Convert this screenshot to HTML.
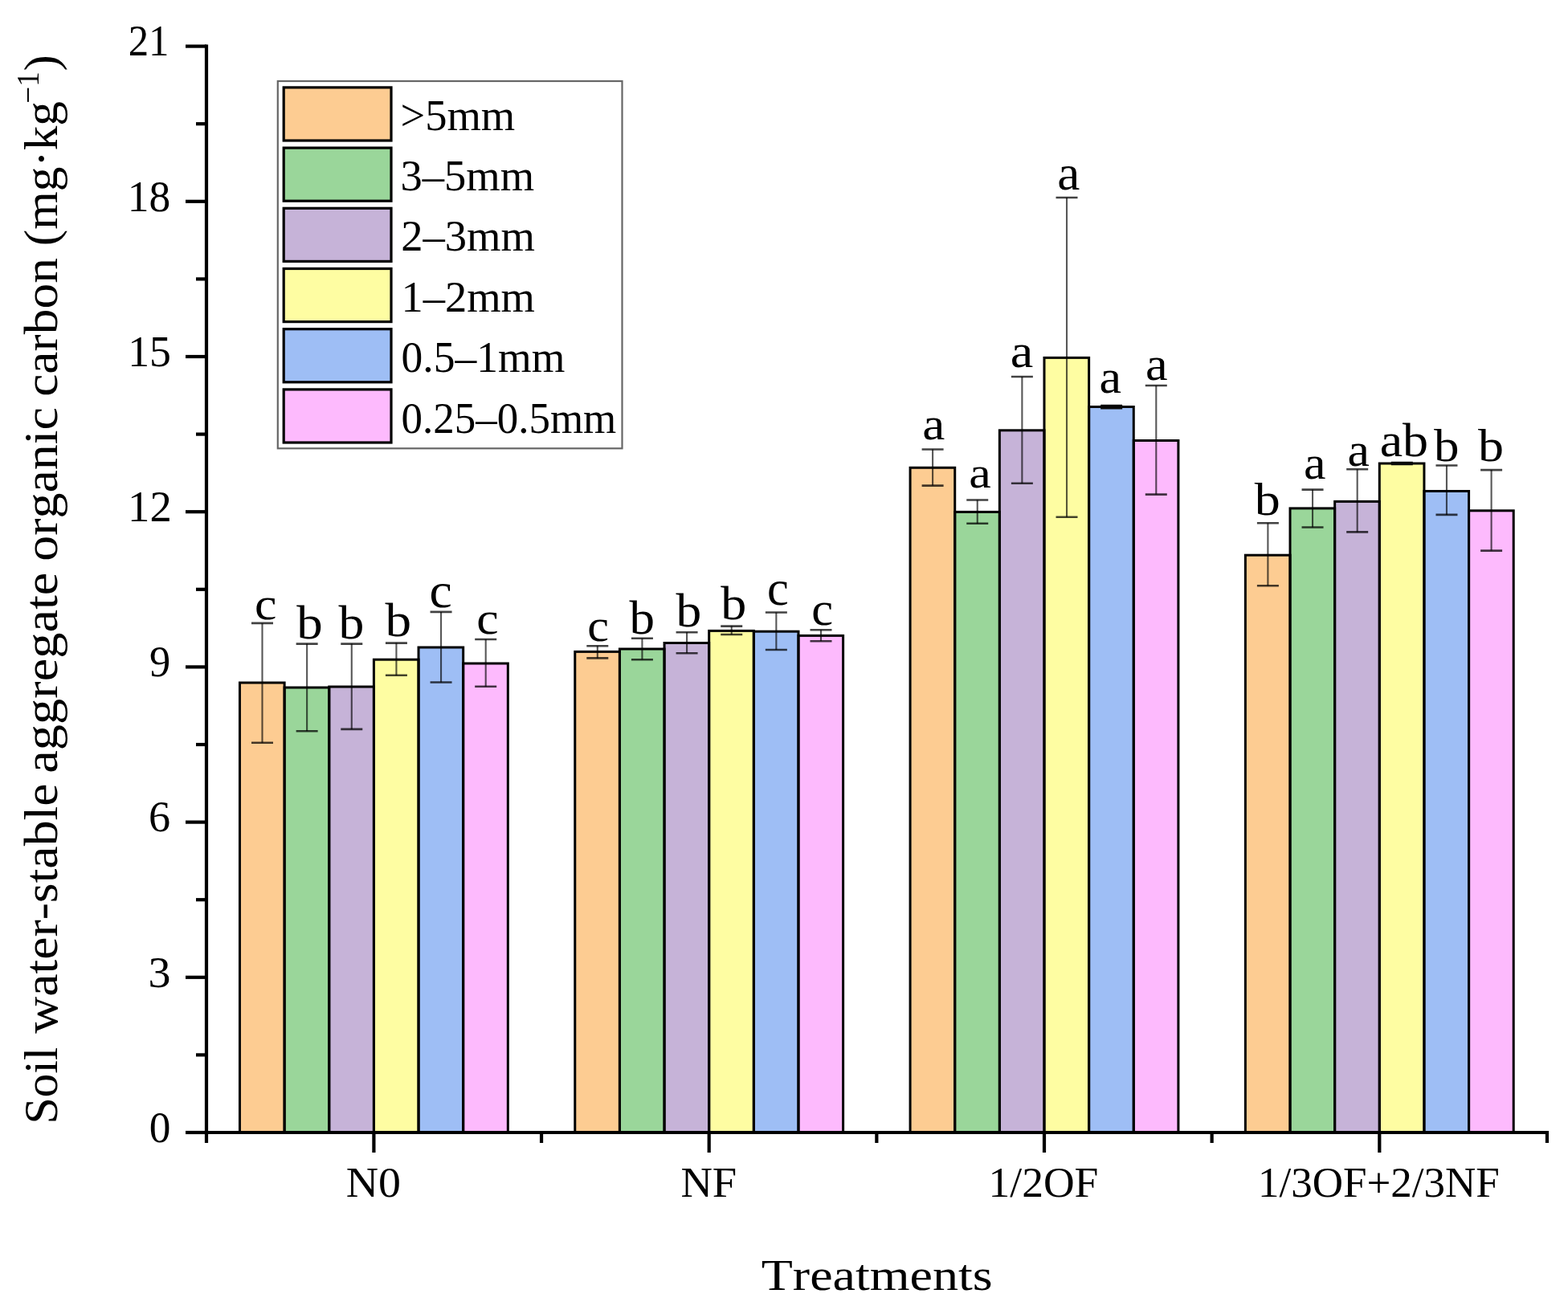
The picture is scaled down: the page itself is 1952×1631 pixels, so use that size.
<!DOCTYPE html>
<html><head><meta charset="utf-8"><title>Soil water-stable aggregate organic carbon</title><style>html,body{margin:0;padding:0;background:#fff;}body{width:1952px;height:1631px;overflow:hidden;}svg{display:block;}text{font-kerning:none;}</style></head><body>
<svg width="1952" height="1631" viewBox="0 0 1952 1631" font-family="'Liberation Serif', serif" fill="#000">
<rect width="1952" height="1631" fill="#fff"/>
<g><rect x="298.48" y="850.00" width="55.64" height="560.00" fill="#FDCC92"/><rect x="354.12" y="856.00" width="55.64" height="554.00" fill="#9AD69A"/><rect x="409.76" y="855.00" width="55.64" height="555.00" fill="#C6B3D8"/><rect x="465.40" y="821.20" width="55.64" height="588.80" fill="#FEFDA2"/><rect x="521.04" y="806.00" width="55.64" height="604.00" fill="#9EBEF5"/><rect x="576.68" y="826.00" width="55.64" height="584.00" fill="#FDBAFD"/><rect x="715.78" y="811.40" width="55.64" height="598.60" fill="#FDCC92"/><rect x="771.42" y="808.00" width="55.64" height="602.00" fill="#9AD69A"/><rect x="827.06" y="800.50" width="55.64" height="609.50" fill="#C6B3D8"/><rect x="882.70" y="785.40" width="55.64" height="624.60" fill="#FEFDA2"/><rect x="938.34" y="786.20" width="55.64" height="623.80" fill="#9EBEF5"/><rect x="993.98" y="791.40" width="55.64" height="618.60" fill="#FDBAFD"/><rect x="1133.08" y="582.30" width="55.64" height="827.70" fill="#FDCC92"/><rect x="1188.72" y="637.40" width="55.64" height="772.60" fill="#9AD69A"/><rect x="1244.36" y="535.80" width="55.64" height="874.20" fill="#C6B3D8"/><rect x="1300.00" y="445.40" width="55.64" height="964.60" fill="#FEFDA2"/><rect x="1355.64" y="506.50" width="55.64" height="903.50" fill="#9EBEF5"/><rect x="1411.28" y="548.50" width="55.64" height="861.50" fill="#FDBAFD"/><rect x="1550.38" y="691.20" width="55.64" height="718.80" fill="#FDCC92"/><rect x="1606.02" y="632.90" width="55.64" height="777.10" fill="#9AD69A"/><rect x="1661.66" y="624.40" width="55.64" height="785.60" fill="#C6B3D8"/><rect x="1717.30" y="577.00" width="55.64" height="833.00" fill="#FEFDA2"/><rect x="1772.94" y="611.50" width="55.64" height="798.50" fill="#9EBEF5"/><rect x="1828.58" y="635.80" width="55.64" height="774.20" fill="#FDBAFD"/><rect x="298.48" y="850.00" width="55.64" height="560.00" fill="none" stroke="#000" stroke-width="3.0"/><rect x="354.12" y="856.00" width="55.64" height="554.00" fill="none" stroke="#000" stroke-width="3.0"/><rect x="409.76" y="855.00" width="55.64" height="555.00" fill="none" stroke="#000" stroke-width="3.0"/><rect x="465.40" y="821.20" width="55.64" height="588.80" fill="none" stroke="#000" stroke-width="3.0"/><rect x="521.04" y="806.00" width="55.64" height="604.00" fill="none" stroke="#000" stroke-width="3.0"/><rect x="576.68" y="826.00" width="55.64" height="584.00" fill="none" stroke="#000" stroke-width="3.0"/><rect x="715.78" y="811.40" width="55.64" height="598.60" fill="none" stroke="#000" stroke-width="3.0"/><rect x="771.42" y="808.00" width="55.64" height="602.00" fill="none" stroke="#000" stroke-width="3.0"/><rect x="827.06" y="800.50" width="55.64" height="609.50" fill="none" stroke="#000" stroke-width="3.0"/><rect x="882.70" y="785.40" width="55.64" height="624.60" fill="none" stroke="#000" stroke-width="3.0"/><rect x="938.34" y="786.20" width="55.64" height="623.80" fill="none" stroke="#000" stroke-width="3.0"/><rect x="993.98" y="791.40" width="55.64" height="618.60" fill="none" stroke="#000" stroke-width="3.0"/><rect x="1133.08" y="582.30" width="55.64" height="827.70" fill="none" stroke="#000" stroke-width="3.0"/><rect x="1188.72" y="637.40" width="55.64" height="772.60" fill="none" stroke="#000" stroke-width="3.0"/><rect x="1244.36" y="535.80" width="55.64" height="874.20" fill="none" stroke="#000" stroke-width="3.0"/><rect x="1300.00" y="445.40" width="55.64" height="964.60" fill="none" stroke="#000" stroke-width="3.0"/><rect x="1355.64" y="506.50" width="55.64" height="903.50" fill="none" stroke="#000" stroke-width="3.0"/><rect x="1411.28" y="548.50" width="55.64" height="861.50" fill="none" stroke="#000" stroke-width="3.0"/><rect x="1550.38" y="691.20" width="55.64" height="718.80" fill="none" stroke="#000" stroke-width="3.0"/><rect x="1606.02" y="632.90" width="55.64" height="777.10" fill="none" stroke="#000" stroke-width="3.0"/><rect x="1661.66" y="624.40" width="55.64" height="785.60" fill="none" stroke="#000" stroke-width="3.0"/><rect x="1717.30" y="577.00" width="55.64" height="833.00" fill="none" stroke="#000" stroke-width="3.0"/><rect x="1772.94" y="611.50" width="55.64" height="798.50" fill="none" stroke="#000" stroke-width="3.0"/><rect x="1828.58" y="635.80" width="55.64" height="774.20" fill="none" stroke="#000" stroke-width="3.0"/></g>
<path fill="none" stroke="#000" stroke-opacity="0.66" stroke-width="2.1" d="M326.50 775.90V924.80M382.14 801.60V910.20M437.78 801.60V907.90M493.42 800.60V840.70M549.06 761.90V849.50M604.70 796.00V854.80M743.80 804.20V819.40M799.44 794.80V821.30M855.08 787.20V813.20M910.72 779.60V790.00M966.36 762.50V809.00M1022.00 784.30V798.30M1161.10 559.50V604.60M1216.74 622.50V651.80M1272.38 469.00V601.70M1328.02 246.00V643.80M1383.66 505.00V508.20M1439.30 480.00V615.60M1578.40 651.30V729.30M1634.04 609.60V656.50M1689.68 584.20V662.40M1745.32 576.00V578.00M1800.96 579.50V640.90M1856.60 585.10V685.60"/>
<path fill="none" stroke="#000" stroke-opacity="0.74" stroke-width="2.6" d="M313.00 775.90H340.00M313.00 924.80H340.00M368.64 801.60H395.64M368.64 910.20H395.64M424.28 801.60H451.28M424.28 907.90H451.28M479.92 800.60H506.92M479.92 840.70H506.92M535.56 761.90H562.56M535.56 849.50H562.56M591.20 796.00H618.20M591.20 854.80H618.20M730.30 804.20H757.30M730.30 819.40H757.30M785.94 794.80H812.94M785.94 821.30H812.94M841.58 787.20H868.58M841.58 813.20H868.58M897.22 779.60H924.22M897.22 790.00H924.22M952.86 762.50H979.86M952.86 809.00H979.86M1008.50 784.30H1035.50M1008.50 798.30H1035.50M1147.60 559.50H1174.60M1147.60 604.60H1174.60M1203.24 622.50H1230.24M1203.24 651.80H1230.24M1258.88 469.00H1285.88M1258.88 601.70H1285.88M1314.52 246.00H1341.52M1314.52 643.80H1341.52M1425.80 480.00H1452.80M1425.80 615.60H1452.80M1564.90 651.30H1591.90M1564.90 729.30H1591.90M1620.54 609.60H1647.54M1620.54 656.50H1647.54M1676.18 584.20H1703.18M1676.18 662.40H1703.18M1787.46 579.50H1814.46M1787.46 640.90H1814.46M1843.10 585.10H1870.10M1843.10 685.60H1870.10"/>
<path fill="none" stroke="#0a0a0a" stroke-width="2.6" d="M1370.16 505.00H1397.16M1370.16 508.20H1397.16M1731.82 576.00H1758.82M1731.82 578.00H1758.82"/>
<g><text x="317.14" y="771.33" font-size="58.01" textLength="27.46" lengthAdjust="spacingAndGlyphs">c</text><text x="369.30" y="795.23" font-size="58.70" textLength="32.47" lengthAdjust="spacingAndGlyphs">b</text><text x="421.40" y="795.23" font-size="58.70" textLength="31.82" lengthAdjust="spacingAndGlyphs">b</text><text x="479.40" y="792.23" font-size="58.84" textLength="32.58" lengthAdjust="spacingAndGlyphs">b</text><text x="534.47" y="756.01" font-size="60.92" textLength="28.29" lengthAdjust="spacingAndGlyphs">c</text><text x="593.24" y="789.44" font-size="57.80" textLength="27.46" lengthAdjust="spacingAndGlyphs">c</text><text x="731.30" y="798.03" font-size="58.01" textLength="26.75" lengthAdjust="spacingAndGlyphs">c</text><text x="783.60" y="789.03" font-size="58.55" textLength="31.50" lengthAdjust="spacingAndGlyphs">b</text><text x="841.40" y="780.22" font-size="59.41" textLength="31.72" lengthAdjust="spacingAndGlyphs">b</text><text x="897.30" y="771.03" font-size="58.70" textLength="32.04" lengthAdjust="spacingAndGlyphs">b</text><text x="954.89" y="753.11" font-size="60.50" textLength="26.87" lengthAdjust="spacingAndGlyphs">c</text><text x="1010.29" y="777.53" font-size="58.84" textLength="26.87" lengthAdjust="spacingAndGlyphs">c</text><text x="1148.28" y="546.54" font-size="57.83" textLength="28.09" lengthAdjust="spacingAndGlyphs">a</text><text x="1206.32" y="607.46" font-size="55.32" textLength="27.53" lengthAdjust="spacingAndGlyphs">a</text><text x="1257.74" y="457.43" font-size="58.87" textLength="28.54" lengthAdjust="spacingAndGlyphs">a</text><text x="1316.18" y="236.21" font-size="60.33" textLength="28.09" lengthAdjust="spacingAndGlyphs">a</text><text x="1368.62" y="488.73" font-size="58.25" textLength="27.53" lengthAdjust="spacingAndGlyphs">a</text><text x="1426.01" y="473.21" font-size="60.12" textLength="27.64" lengthAdjust="spacingAndGlyphs">a</text><text x="1561.80" y="641.14" font-size="57.70" textLength="32.04" lengthAdjust="spacingAndGlyphs">b</text><text x="1623.02" y="596.31" font-size="59.92" textLength="27.53" lengthAdjust="spacingAndGlyphs">a</text><text x="1677.63" y="580.33" font-size="58.25" textLength="27.42" lengthAdjust="spacingAndGlyphs">a</text><text x="1717.65" y="568.43" font-size="58.84" textLength="60.49" lengthAdjust="spacingAndGlyphs">ab</text><text x="1785.00" y="573.84" font-size="57.56" textLength="31.50" lengthAdjust="spacingAndGlyphs">b</text><text x="1839.90" y="573.84" font-size="57.56" textLength="32.04" lengthAdjust="spacingAndGlyphs">b</text></g>
<g stroke="#000" stroke-width="4.2" fill="none"><path d="M257.0 55.60V1423.0M255.0 1410.0H1928.05" /><path d="M231.0 1410.00H257.0"/><path d="M231.0 1216.80H257.0"/><path d="M231.0 1023.60H257.0"/><path d="M231.0 830.40H257.0"/><path d="M231.0 637.20H257.0"/><path d="M231.0 444.00H257.0"/><path d="M231.0 250.80H257.0"/><path d="M231.0 57.60H257.0"/><path d="M244.0 1313.40H257.0"/><path d="M244.0 1120.20H257.0"/><path d="M244.0 927.00H257.0"/><path d="M244.0 733.80H257.0"/><path d="M244.0 540.60H257.0"/><path d="M244.0 347.40H257.0"/><path d="M244.0 154.20H257.0"/><path d="M465.40 1410.0V1435.0"/><path d="M882.70 1410.0V1435.0"/><path d="M1300.00 1410.0V1435.0"/><path d="M1717.30 1410.0V1435.0"/><path d="M674.05 1410.0V1423.0"/><path d="M1091.35 1410.0V1423.0"/><path d="M1508.65 1410.0V1423.0"/><path d="M1925.95 1410.0V1423.0"/></g>
<g><text x="159.67" y="69.30" font-size="54.50" textLength="50.78" lengthAdjust="spacingAndGlyphs">21</text><text x="158.80" y="262.50" font-size="54.50" textLength="53.43" lengthAdjust="spacingAndGlyphs">18</text><text x="159.18" y="455.70" font-size="54.50" textLength="53.72" lengthAdjust="spacingAndGlyphs">15</text><text x="159.09" y="648.90" font-size="54.50" textLength="54.73" lengthAdjust="spacingAndGlyphs">12</text><text x="186.01" y="842.10" font-size="54.50" textLength="26.24" lengthAdjust="spacingAndGlyphs">9</text><text x="184.97" y="1035.30" font-size="54.50" textLength="27.15" lengthAdjust="spacingAndGlyphs">6</text><text x="184.52" y="1228.50" font-size="54.50" textLength="27.96" lengthAdjust="spacingAndGlyphs">3</text><text x="185.67" y="1421.70" font-size="54.50" textLength="26.66" lengthAdjust="spacingAndGlyphs">0</text></g>
<g><text x="430.69" y="1489.80" font-size="53.00" textLength="68.23" lengthAdjust="spacingAndGlyphs">N0</text><text x="847.43" y="1489.80" font-size="53.00" textLength="69.85" lengthAdjust="spacingAndGlyphs">NF</text><text x="1230.49" y="1489.80" font-size="53.00" textLength="136.94" lengthAdjust="spacingAndGlyphs">1/2OF</text><text x="1565.94" y="1489.80" font-size="53.00" textLength="300.77" lengthAdjust="spacingAndGlyphs">1/3OF+2/3NF</text><text x="947.74" y="1605.70" font-size="55.50" textLength="287.87" lengthAdjust="spacingAndGlyphs">Treatments</text></g>
<g><rect x="345.8" y="101" width="428.7" height="457.3" fill="#fff" stroke="#666" stroke-width="2.2"/><rect x="353.2" y="108.90" width="133.8" height="66.1" fill="#FDCC92" stroke="#000" stroke-width="3.2"/><text x="498.43" y="161.60" font-size="54.00" textLength="142.82" lengthAdjust="spacingAndGlyphs">&gt;5mm</text><rect x="353.2" y="184.10" width="133.8" height="66.1" fill="#9AD69A" stroke="#000" stroke-width="3.2"/><text x="498.59" y="237.02" font-size="54.00" textLength="166.56" lengthAdjust="spacingAndGlyphs">3–5mm</text><rect x="353.2" y="259.30" width="133.8" height="66.1" fill="#C6B3D8" stroke="#000" stroke-width="3.2"/><text x="499.20" y="312.44" font-size="54.00" textLength="166.75" lengthAdjust="spacingAndGlyphs">2–3mm</text><rect x="353.2" y="334.50" width="133.8" height="66.1" fill="#FEFDA2" stroke="#000" stroke-width="3.2"/><text x="499.41" y="387.86" font-size="54.00" textLength="166.54" lengthAdjust="spacingAndGlyphs">1–2mm</text><rect x="353.2" y="409.70" width="133.8" height="66.1" fill="#9EBEF5" stroke="#000" stroke-width="3.2"/><text x="499.56" y="463.28" font-size="54.00" textLength="203.78" lengthAdjust="spacingAndGlyphs">0.5–1mm</text><rect x="353.2" y="484.90" width="133.8" height="66.1" fill="#FDBAFD" stroke="#000" stroke-width="3.2"/><text x="499.58" y="538.70" font-size="54.00" textLength="267.74" lengthAdjust="spacingAndGlyphs">0.25–0.5mm</text></g>
<g><text x="-1399.48" y="71.00" font-size="59.00" textLength="95.87" lengthAdjust="spacingAndGlyphs" transform="rotate(-90)">Soil</text><text x="-1286.86" y="71.00" font-size="59.00" textLength="311.37" lengthAdjust="spacingAndGlyphs" transform="rotate(-90)">water-stable</text><text x="-962.76" y="71.00" font-size="59.00" textLength="250.20" lengthAdjust="spacingAndGlyphs" transform="rotate(-90)">aggregate</text><text x="-698.84" y="71.00" font-size="59.00" textLength="191.80" lengthAdjust="spacingAndGlyphs" transform="rotate(-90)">organic</text><text x="-493.82" y="71.00" font-size="59.00" textLength="172.78" lengthAdjust="spacingAndGlyphs" transform="rotate(-90)">carbon</text><text x="-306.19" y="71.00" font-size="59.00" textLength="179.95" lengthAdjust="spacingAndGlyphs" transform="rotate(-90)">(mg·kg</text><text x="-128.65" y="48.00" font-size="40.00" textLength="39.48" lengthAdjust="spacingAndGlyphs" transform="rotate(-90)">−1</text><text x="-88.54" y="71.00" font-size="59.00" textLength="20.10" lengthAdjust="spacingAndGlyphs" transform="rotate(-90)">)</text></g>
</svg></body></html>
